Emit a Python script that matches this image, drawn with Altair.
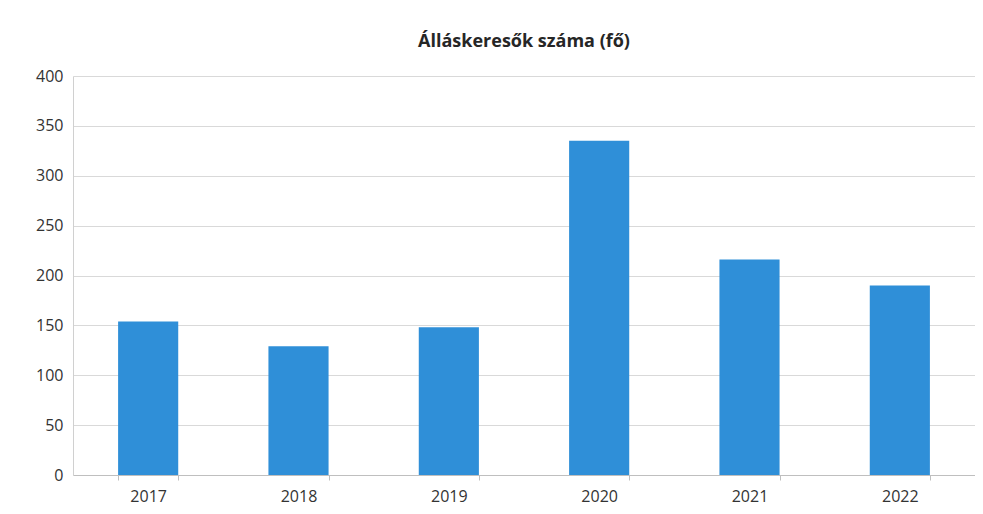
import altair as alt
import pandas as pd

years = ["2017", "2018", "2019", "2020", "2021", "2022"]
values = [154, 129, 148, 335, 216, 190]

df = pd.DataFrame({"ev": years, "fo": values})

chart = alt.Chart(df).mark_bar(color="#2f8fd8").encode(
    x=alt.X("ev:N", sort=years, title=None,
            scale=alt.Scale(paddingInner=0.6, paddingOuter=0.3),
            axis=alt.Axis(labelAngle=0, labelFontSize=16, labelColor="#333333",
                          labelFont="Open Sans", labelPadding=8,
                          tickBand="extent", tickColor="#bfbfbf", tickSize=5,
                          domainColor="#bfbfbf", grid=False)),
    y=alt.Y("fo:Q", title=None,
            scale=alt.Scale(domain=[0, 400]),
            axis=alt.Axis(values=[0, 50, 100, 150, 200, 250, 300, 350, 400],
                          labelFontSize=16, labelColor="#333333", labelFont="Open Sans",
                          labelPadding=10, ticks=False, domainColor="#d0d0d0",
                          gridColor="#d9d9d9")),
).properties(
    width=902, height=399,
    padding={"left": 65, "top": 68, "right": 0, "bottom": 31},
    autosize=alt.AutoSizeParams(type="none"),
    title=alt.TitleParams("Álláskeresők száma (fő)", fontSize=18, font="Open Sans",
                          fontWeight="bold", color="#262626", offset=17),
).configure_view(stroke=None)

chart.save("out.html", embed_options={"renderer": "svg", "actions": False})
